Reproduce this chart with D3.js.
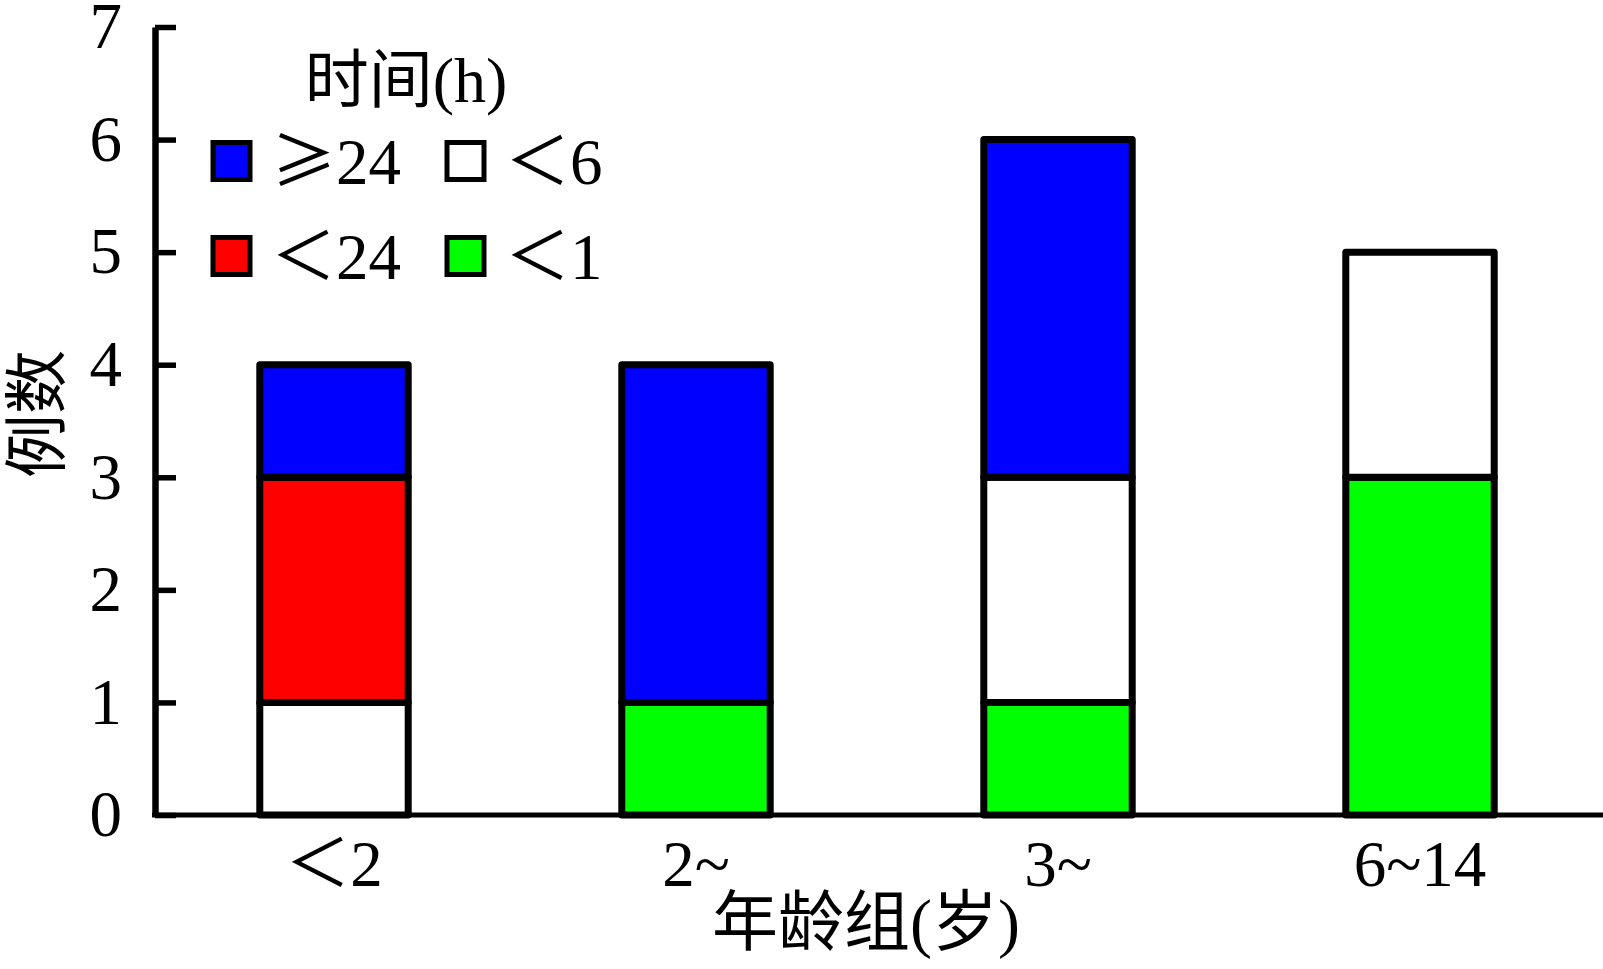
<!DOCTYPE html>
<html>
<head>
<meta charset="utf-8">
<script src="https://cdn.jsdelivr.net/npm/d3@7"></script>
<style>
  html, body { margin: 0; padding: 0; background: #fff; }
  svg { display: block; }
  text { font-family: "Liberation Serif", "Noto Sans CJK SC", serif; fill: #000; }
</style>
</head>
<body>
<svg id="chart" width="1603" height="969"></svg>
<script>
// ---- data ----
const categories = ["＜2", "2~", "3~", "6~14"];
const seriesKeys = ["lt1", "lt6", "lt24", "ge24"];      // stacked bottom -> top
const seriesLabels = ["＜1", "＜6", "＜24", "≥24"];
const seriesColors = ["#00ff00", "#ffffff", "#ff0000", "#0000ff"];
const lt1  = [0, 1, 1, 3];
const lt6  = [1, 0, 2, 2];
const lt24 = [2, 0, 0, 0];
const ge24 = [1, 3, 3, 0];
const yTicks = [0, 1, 2, 3, 4, 5, 6, 7];
const yTitle = "例数";
const xTitle = "年龄组(岁)";
const legendTitle = "时间(h)";

// ---- build table ----
const seriesVals = { lt1, lt6, lt24, ge24 };
const table = categories.map((c, i) => {
  const row = { cat: c };
  seriesKeys.forEach(k => row[k] = seriesVals[k][i]);
  return row;
});
const stacked = d3.stack().keys(seriesKeys)(table);

const svg = d3.select("#chart");
const axisX = 155, baseY = 815, topY = 27, rightX = 1603;

const x = d3.scaleBand().domain(categories).range([153, 1601])
  .paddingInner(0.59).paddingOuter(0.295);
const y = d3.scaleLinear().domain([0, 7]).range([baseY, topY]);

// ---- y axis ----
const yAxis = d3.axisLeft(y).tickValues(yTicks).tickSize(-21).tickSizeOuter(0).tickPadding(33)
  .tickFormat(d3.format("d"));
const gy = svg.append("g").attr("transform", `translate(${axisX},0)`).call(yAxis);
gy.select(".domain").attr("stroke", "#000").attr("stroke-width", 6.5);
gy.selectAll(".tick line").attr("stroke", "#000").attr("stroke-width", 5.5);
gy.selectAll(".tick text").attr("font-size", 65).attr("font-family", null);

// ---- x axis ----
const xAxis = d3.axisBottom(x).tickSize(0).tickSizeOuter(0).tickPadding(25);
const gx = svg.append("g").attr("transform", `translate(0,${baseY})`).call(xAxis);
gx.select(".domain").attr("d", `M${axisX - 3},0H${rightX}`).attr("stroke", "#000").attr("stroke-width", 5);
gx.selectAll(".tick text").attr("font-size", 65).attr("font-family", null);

// ---- bars ----
stacked.forEach((layer, li) => {
  svg.append("g")
    .selectAll("rect")
    .data(layer.filter(d => d[1] - d[0] > 0))
    .join("rect")
    .attr("x", d => x(d.data.cat))
    .attr("width", x.bandwidth())
    .attr("y", d => y(d[1]))
    .attr("height", d => y(d[0]) - y(d[1]))
    .attr("fill", seriesColors[li])
    .attr("stroke", "#000")
    .attr("stroke-width", 7)
    .attr("stroke-linejoin", "round");
});

// ---- axis titles ----
svg.append("text")
  .attr("transform", `translate(37,414) rotate(-90)`)
  .attr("text-anchor", "middle").attr("dy", "0.35em")
  .attr("font-size", 64)
  .text(yTitle);

svg.append("text")
  .attr("x", 866).attr("y", 922)
  .attr("text-anchor", "middle").attr("dy", "0.35em")
  .attr("font-size", 66)
  .text(xTitle);

// ---- legend ----
svg.append("text")
  .attr("x", 406).attr("y", 80)
  .attr("text-anchor", "middle").attr("dy", "0.35em")
  .attr("font-size", 64)
  .text(legendTitle);

// legend layout: [≥24, ＜6] row 1, [＜24, ＜1] row 2
const legendOrder = [3, 1, 2, 0];
const colX = [213, 447];
const rowY = [161, 256];
const sw = 37;
legendOrder.forEach((si, i) => {
  const cx = colX[i % 2], cy = rowY[Math.floor(i / 2)];
  const g = svg.append("g").attr("transform", `translate(${cx},${cy})`);
  g.append("rect")
    .attr("x", 0).attr("y", -sw / 2).attr("width", sw).attr("height", sw)
    .attr("fill", seriesColors[si]).attr("stroke", "#000").attr("stroke-width", 5);
  const t = g.append("text")
    .attr("x", 58).attr("dy", "0.35em")
    .attr("font-size", 65);
  const label = seriesLabels[si];
  // first symbol drawn in the CJK font (full-width glyph), digits in serif
  t.append("tspan").attr("font-family", "Noto Sans CJK SC").text(label[0]);
  t.append("tspan").text(label.slice(1));
});
</script>
</body>
</html>
